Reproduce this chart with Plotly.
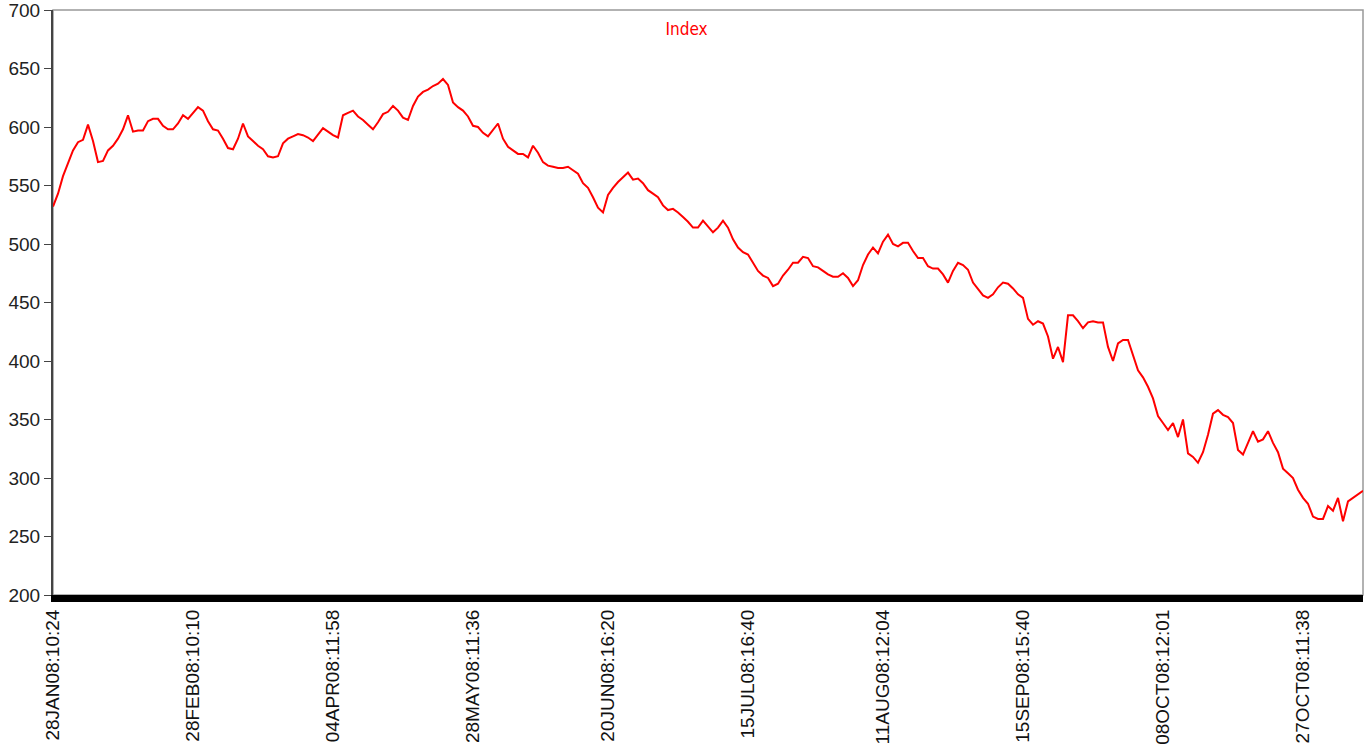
import plotly.graph_objects as go

# Index level at roughly even steps in time
index_values = [
    532, 543, 558, 569, 580, 587, 589, 602, 588, 570,
    571, 580, 584, 590, 598, 610, 596, 597, 597, 605,
    607, 607, 601, 598, 598, 603, 610, 607, 612, 617,
    614, 605, 598, 597, 590, 582, 581, 590, 603, 592,
    588, 584, 581, 575, 574, 575, 586, 590, 592, 594,
    593, 591, 588, 594, 599, 596, 593, 591, 610, 612,
    614, 609, 606, 602, 598, 604, 611, 613, 618, 614,
    608, 606, 618, 626, 630, 632, 635, 637, 641, 636,
    621, 617, 614, 609, 601, 600, 595, 592, 598, 603,
    590, 583, 580, 577, 577, 574, 584, 578, 570, 567,
    566, 565, 565, 566, 563, 560, 552, 548, 540, 531,
    527, 542, 548, 553, 557, 561, 555, 556, 552, 546,
    543, 540, 533, 529, 530, 527, 523, 519, 514, 514,
    520, 515, 510, 514, 520, 514, 504, 497, 493, 491,
    484, 477, 473, 471, 464, 466, 473, 478, 484, 484,
    489, 488, 481, 480, 477, 474, 472, 472, 475, 471,
    464, 469, 482, 491, 497, 492, 502, 508, 500, 498,
    501, 501, 494, 488, 488, 481, 479, 479, 474, 467,
    477, 484, 482, 478, 467, 461, 456, 454, 457, 463,
    467, 466, 462, 457, 454, 436, 431, 434, 432, 421,
    402, 412, 399, 439, 439, 434, 428, 433, 434, 433,
    433, 412, 400, 415, 418, 418, 404, 392, 386, 378,
    368, 353, 347, 341, 347, 335, 350, 321, 318, 313,
    322, 337, 355, 358, 354, 352, 347, 324, 320, 330,
    340, 331, 333, 340, 330, 322, 308, 304, 300, 290,
    283, 278, 267, 265, 265, 276, 272, 283, 263, 280,
    283, 286, 289,
]

# category tick labels and where they fall in the series
tick_labels = [
    "28JAN08:10:24", "28FEB08:10:10", "04APR08:11:58", "28MAY08:11:36",
    "20JUN08:16:20", "15JUL08:16:40", "11AUG08:12:04", "15SEP08:15:40",
    "08OCT08:12:01", "27OCT08:11:38",
]
tick_pos = [0, 28, 56, 84, 111, 139, 166, 194, 222, 250]

obs = list(range(len(index_values)))

fig = go.Figure()
fig.add_trace(go.Scatter(
    x=obs, y=index_values, mode="lines",
    line=dict(color="#ff0000", width=2),
    name="Index",
))

fig.update_layout(
    width=1365, height=752,
    margin=dict(l=53, r=2, t=10, b=157, autoexpand=False),
    paper_bgcolor="white", plot_bgcolor="white",
    showlegend=False,
    font=dict(family="Liberation Sans, Arial, sans-serif", color="#222"),
    title=dict(text="Index", x=0.503, xanchor="center", y=0.962, yanchor="middle",
               font=dict(size=17, color="#ff0000", family="DejaVu Sans Condensed, Liberation Sans Narrow, sans-serif")),
)

fig.update_xaxes(
    range=[0, len(index_values) - 1],
    tickmode="array", tickvals=tick_pos, ticktext=tick_labels,
    tickangle=-90, tickfont=dict(size=19, color="#111"),
    showgrid=False, zeroline=False, automargin=False,
    showline=True, linecolor="black", linewidth=7,
    ticks="",
)
fig.update_yaxes(
    range=[200, 700], dtick=50,
    tickfont=dict(size=19, color="#222"),
    showgrid=False, zeroline=False, automargin=False,
    ticklabeloverflow="allow",
    showline=True, linecolor="#444", linewidth=2,
    ticks="outside", ticklen=7, tickcolor="#444", tickwidth=1,
)

# gray frame around the plot area
fig.add_shape(type="rect", xref="paper", yref="paper", x0=0, x1=1, y0=0, y1=1,
              line=dict(color="#999", width=1.5), layer="below")

# drop the default page margin so the figure sits at the window's corner
fig.write_html("out.html", config={"displayModeBar": False},
               post_script="document.body.style.margin='0';document.body.style.overflow='hidden';")
